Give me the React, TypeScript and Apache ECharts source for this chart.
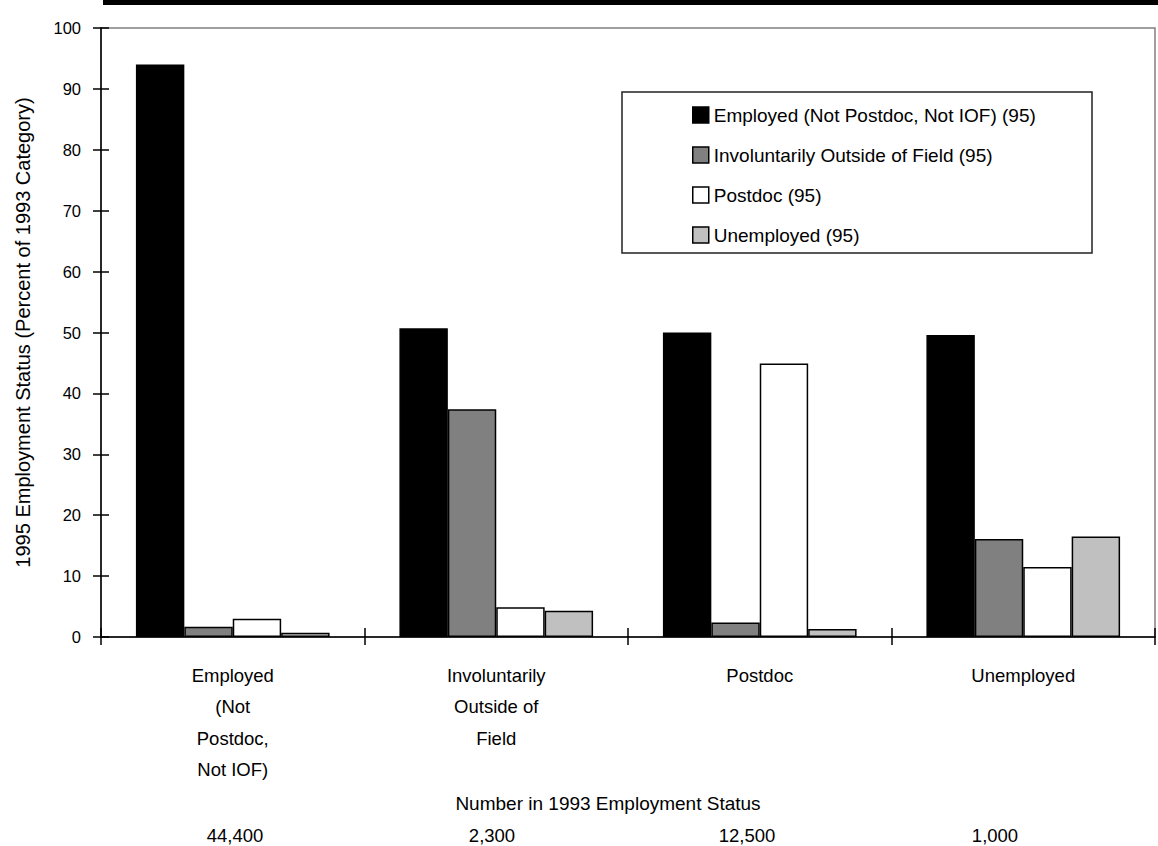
import React, { useEffect, useRef } from "react";
import * as echarts from "echarts";

const categories = [
  "Employed\n(Not\nPostdoc,\nNot IOF)",
  "Involuntarily\nOutside of\nField",
  "Postdoc",
  "Unemployed",
];
const seriesNames = [
  "Employed (Not Postdoc, Not IOF) (95)",
  "Involuntarily Outside of Field (95)",
  "Postdoc (95)",
  "Unemployed (95)",
];
const employed95 = [94.0, 50.7, 50.0, 49.6];
const iof95 = [1.7, 37.4, 2.4, 16.1];
const postdoc95 = [3.0, 4.9, 44.9, 11.5];
const unemployed95 = [0.7, 4.3, 1.3, 16.5];
const counts1993 = ["44,400", "2,300", "12,500", "1,000"];
const countX = [235, 492, 747, 995];
const yTicks = { min: 0, max: 100, interval: 10 };
const xAxisTitle = "Number in 1993 Employment Status";
const yAxisTitle = "1995 Employment Status (Percent of 1993 Category)";

const colors = ["#000000", "#808080", "#ffffff", "#c0c0c0"];
const FONT = "'Liberation Sans', Arial, sans-serif";

export default function App() {
  const ref = useRef<HTMLDivElement>(null);
  useEffect(() => {
    document.body.style.margin = "0";
    if (!ref.current) return;
    const chart = echarts.init(ref.current, null, { renderer: "svg" });
    const values = [employed95, iof95, postdoc95, unemployed95];
    chart.setOption({
      animation: false,
      backgroundColor: "#ffffff",
      textStyle: { fontFamily: FONT, color: "#000" },
      grid: {
        left: 101,
        right: 3,
        top: 28,
        bottom: 209,
        show: true,
        borderColor: "#808080",
        borderWidth: 1.5,
      },
      legend: {
        orient: "vertical",
        left: 687,
        top: 98,
        itemWidth: 16,
        itemHeight: 16,
        itemGap: 16,
        icon: "rect",
        data: seriesNames,
        textStyle: { fontFamily: FONT, fontSize: 19, color: "#000", lineHeight: 24 },
        itemStyle: { borderColor: "#000", borderWidth: 1.5 },
      },
      xAxis: [
        {
          type: "category",
          data: categories,
          axisLine: { lineStyle: { color: "#000", width: 1.5 } },
          axisTick: { show: true, length: 8, lineStyle: { color: "#000", width: 1.5 } },
          axisLabel: {
            color: "#000",
            fontFamily: FONT,
            fontSize: 18.5,
            lineHeight: 31.3,
            margin: 23,
            interval: 0,
          },
        },
        {
          type: "category",
          data: categories,
          position: "bottom",
          axisLine: { show: false },
          axisTick: { show: true, inside: true, length: 9, lineStyle: { color: "#000", width: 1.5 } },
          axisLabel: { show: false },
        },
      ],
      yAxis: [
        {
          type: "value",
          min: yTicks.min,
          max: yTicks.max,
          interval: yTicks.interval,
          name: yAxisTitle,
          nameLocation: "middle",
          nameRotate: 90,
          nameGap: 68,
          nameTextStyle: { fontFamily: FONT, fontSize: 20, color: "#000" },
          axisLine: { show: true, lineStyle: { color: "#000", width: 1.5 } },
          axisTick: { show: true, length: 8, lineStyle: { color: "#000", width: 1.5 } },
          axisLabel: { color: "#000", fontFamily: FONT, fontSize: 16.5, margin: 20 },
          splitLine: { show: false },
        },
        {
          type: "value",
          min: yTicks.min,
          max: yTicks.max,
          interval: yTicks.interval,
          position: "left",
          axisLine: { show: false },
          axisTick: { show: true, inside: true, length: 8, lineStyle: { color: "#000", width: 1.5 } },
          axisLabel: { show: false },
          splitLine: { show: false },
        },
      ],
      series: seriesNames.map((name, i) => ({
        name,
        type: "bar",
        data: values[i],
        barGap: "0%",
        barCategoryGap: "26.5%",
        xAxisIndex: 0,
        yAxisIndex: 0,
        itemStyle: { color: colors[i], borderColor: "#000", borderWidth: 1.5 },
      })),
      graphic: [
        { type: "rect", shape: { x: 103, y: 0, width: 1055, height: 5 }, style: { fill: "#000" } },
        {
          type: "rect",
          shape: { x: 622, y: 92, width: 470, height: 161 },
          style: { fill: "none", stroke: "#222", lineWidth: 1.5 },
          z: 10,
        },
        {
          type: "text",
          x: 608,
          y: 803,
          style: {
            text: xAxisTitle,
            fontFamily: FONT,
            fontSize: 19,
            fill: "#000",
            textAlign: "center",
            textVerticalAlign: "middle",
          },
        },
        ...counts1993.map((c, i) => ({
          type: "text",
          x: countX[i],
          y: 835,
          style: {
            text: c,
            fontFamily: FONT,
            fontSize: 18.5,
            fill: "#000",
            textAlign: "center",
            textVerticalAlign: "middle",
          },
        })),
      ],
    });
    return () => chart.dispose();
  }, []);
  return <div ref={ref} style={{ width: 1158, height: 846 }} />;
}
